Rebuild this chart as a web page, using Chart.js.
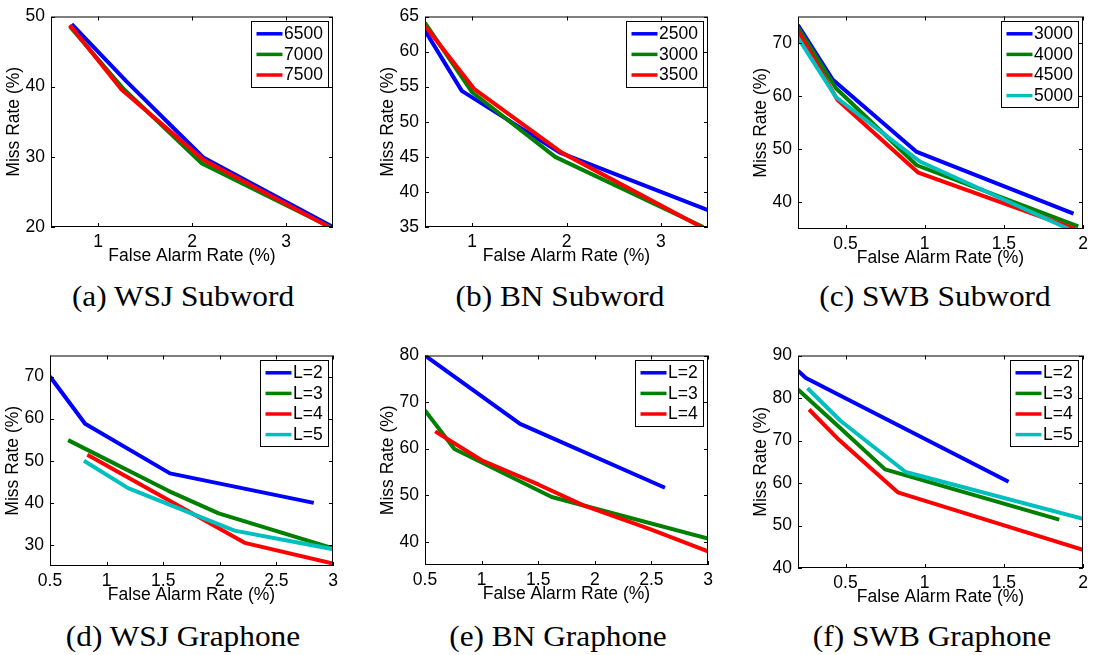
<!DOCTYPE html>
<html><head><meta charset="utf-8">
<script src="https://cdn.jsdelivr.net/npm/chart.js@4.4.0/dist/chart.umd.min.js"></script>
<style>
html,body{margin:0;padding:0;background:#fff;width:1097px;height:655px;overflow:hidden;position:relative;}
canvas{position:absolute;}
.cap{position:absolute;font-family:"Liberation Serif","Times New Roman",serif;font-size:29px;line-height:29px;white-space:nowrap;color:#000;transform:translateX(-50%) scaleX(1.08);transform-origin:center;}
</style></head><body>
<script>
// ---------- (a) WSJ Subword ----------
const aXTicks = [1, 2, 3];
const aYTicks = [20, 30, 40, 50];
const aLabels = ['6500', '7000', '7500'];
const aX6500 = [0.72, 1.30, 2.12, 3.50];
const aY6500 = [48.9, 40.8, 29.9, 20.0];
const aX7000 = [0.70, 1.27, 2.10, 3.47];
const aY7000 = [48.6, 39.7, 29.1, 20.0];
const aX7500 = [0.70, 1.25, 2.12, 3.46];
const aY7500 = [48.8, 39.6, 29.6, 20.0];

// ---------- (b) BN Subword ----------
const bXTicks = [1, 2, 3];
const bYTicks = [35, 40, 45, 50, 55, 60, 65];
const bLabels = ['2500', '3000', '3500'];
const bX2500 = [0.50, 0.89, 1.93, 3.50];
const bY2500 = [63.0, 54.4, 45.6, 37.4];
const bX3000 = [0.50, 1.00, 1.88, 3.45];
const bY3000 = [64.1, 54.2, 45.0, 35.0];
const bX3500 = [0.50, 1.02, 1.95, 3.43];
const bY3500 = [63.7, 54.7, 45.6, 35.0];

// ---------- (c) SWB Subword ----------
const cXTicks = [0.5, 1, 1.5, 2];
const cYTicks = [40, 50, 60, 70];
const cLabels = ['3000', '4000', '4500', '5000'];
const cX3000 = [0.20, 0.42, 0.95, 1.94];
const cY3000 = [73.4, 63.1, 49.5, 37.9];
const cX4000 = [0.20, 0.44, 0.95, 1.97];
const cY4000 = [72.9, 61.5, 47.0, 35.5];
const cX4500 = [0.20, 0.45, 0.96, 1.95];
const cY4500 = [72.3, 59.3, 45.6, 35.0];
const cX5000 = [0.20, 0.44, 0.97, 1.91];
const cY5000 = [71.0, 59.8, 47.7, 35.0];

// ---------- (d) WSJ Graphone ----------
const dXTicks = [0.5, 1, 1.5, 2, 2.5, 3];
const dYTicks = [30, 40, 50, 60, 70];
const dLabels = ['L=2', 'L=3', 'L=4', 'L=5'];
const dXL2 = [0.50, 0.81, 1.56, 2.83];
const dYL2 = [70.0, 58.8, 47.0, 40.0];
const dXL3 = [0.66, 1.55, 1.99, 3.00];
const dYL3 = [54.9, 42.8, 37.5, 29.2];
const dXL4 = [0.83, 2.22, 3.00];
const dYL4 = [51.4, 30.5, 25.6];
const dXL5 = [0.80, 1.19, 2.13, 3.00];
const dYL5 = [50.0, 43.5, 33.4, 29.0];

// ---------- (e) BN Graphone ----------
const eXTicks = [0.5, 1, 1.5, 2, 2.5, 3];
const eYTicks = [40, 50, 60, 70, 80];
const eLabels = ['L=2', 'L=3', 'L=4'];
const eXL2 = [0.50, 1.34, 2.62];
const eYL2 = [80.0, 65.3, 51.6];
const eXL3 = [0.50, 0.76, 1.62, 3.00];
const eYL3 = [68.2, 59.9, 49.6, 40.7];
const eXL4 = [0.59, 1.00, 1.50, 1.90, 2.50, 3.00];
const eYL4 = [63.7, 57.5, 52.3, 47.8, 42.6, 37.9];

// ---------- (f) SWB Graphone ----------
const fXTicks = [0.5, 1, 1.5, 2];
const fYTicks = [40, 50, 60, 70, 80, 90];
const fLabels = ['L=2', 'L=3', 'L=4', 'L=5'];
const fXL2 = [0.20, 0.25, 1.53];
const fYL2 = [86.4, 84.7, 60.3];
const fXL3 = [0.20, 0.47, 0.75, 1.85];
const fYL3 = [82.0, 72.8, 63.2, 51.4];
const fXL4 = [0.27, 0.46, 0.83, 2.00];
const fYL4 = [77.3, 70.1, 57.8, 44.3];
const fXL5 = [0.26, 0.47, 0.88, 2.00];
const fYL5 = [82.3, 74.6, 62.6, 51.6];

const captions = ['(a) WSJ Subword', '(b) BN Subword', '(c) SWB Subword',
                  '(d) WSJ Graphone', '(e) BN Graphone', '(f) SWB Graphone'];

// ---------- styling / layout ----------
const COLORS = ['#0000FF', '#008000', '#FF0000', '#00BFBF'];
const FONT = {family: "'Liberation Sans', Arial, Helvetica, sans-serif", size: 17.5};
const YW = 50, XH = 40, PT = 14, PR = 14;

function pts(xs, ys) { return xs.map((x, i) => ({x: x, y: ys[i]})); }

const boxPlugin = {
  id: 'matlabBox',
  afterDraw(chart) {
    const ctx = chart.ctx, ca = chart.chartArea;
    const xs = chart.scales.x, ys = chart.scales.y;
    ctx.save();
    ctx.strokeStyle = '#000';
    ctx.lineWidth = 1;
    ctx.strokeRect(ca.left + 0.5, ca.top + 0.5, ca.right - ca.left - 1, ca.bottom - ca.top - 1);
    const TL = 4;
    ctx.beginPath();
    xs.ticks.forEach(t => {
      const p = Math.round(xs.getPixelForValue(t.value)) + 0.5;
      ctx.moveTo(p, ca.bottom); ctx.lineTo(p, ca.bottom - TL);
      ctx.moveTo(p, ca.top); ctx.lineTo(p, ca.top + TL);
    });
    ys.ticks.forEach(t => {
      const p = Math.round(ys.getPixelForValue(t.value)) + 0.5;
      ctx.moveTo(ca.left, p); ctx.lineTo(ca.left + TL, p);
      ctx.moveTo(ca.right, p); ctx.lineTo(ca.right - TL, p);
    });
    ctx.stroke();

    // legend box (top-right, inside axes)
    const ds = chart.data.datasets;
    ctx.font = FONT.size + 'px ' + FONT.family;
    let tw = 0;
    ds.forEach(d => { tw = Math.max(tw, ctx.measureText(d.label).width); });
    const padL = 5, lineLen = 26, gap = 1.6, padR = 5.5, rowH = 20.6;
    const w = Math.round(padL + lineLen + gap + tw + padR);
    const h = Math.round(ds.length * rowH + 4);
    const bx = Math.round(ca.right - 5 - w) + 0.5;
    const by = Math.round(ca.top + 4) + 0.5;
    ctx.fillStyle = '#fff';
    ctx.fillRect(bx, by, w, h);
    ctx.strokeRect(bx, by, w, h);
    ds.forEach((d, i) => {
      const cy = by + 2 + rowH * (i + 0.5);
      ctx.strokeStyle = d.borderColor;
      ctx.lineWidth = 3.5;
      ctx.lineCap = 'butt';
      ctx.beginPath();
      ctx.moveTo(bx + padL, cy); ctx.lineTo(bx + padL + lineLen, cy);
      ctx.stroke();
      ctx.fillStyle = '#000';
      ctx.textBaseline = 'middle';
      ctx.textAlign = 'left';
      ctx.fillText(d.label, bx + padL + lineLen + gap, cy + 0.5);
    });
    ctx.restore();
  }
};

function makePanel(rect, xMin, xMax, yMin, yMax, xTicks, yTicks, labels, seriesX, seriesY, caption, capX, capTop) {
  const left = rect.L - YW, top = rect.T - PT;
  const w = rect.R - rect.L + YW + PR, h = rect.B - rect.T + PT + XH;
  const cv = document.createElement('canvas');
  cv.width = w; cv.height = h;
  cv.style.left = left + 'px'; cv.style.top = top + 'px';
  cv.style.width = w + 'px'; cv.style.height = h + 'px';
  document.body.appendChild(cv);
  const n = labels.length;
  const datasets = labels.map((lab, i) => ({
    label: lab,
    data: pts(seriesX[i], seriesY[i]),
    borderColor: COLORS[i],
    backgroundColor: COLORS[i],
    borderWidth: 4,
    pointRadius: 0,
    pointHoverRadius: 0,
    tension: 0,
    fill: false,
    clip: 0,
    borderJoinStyle: 'round',
    borderCapStyle: 'butt',
    order: n - i
  }));
  new Chart(cv, {
    type: 'line',
    data: {datasets: datasets},
    options: {
      responsive: false,
      animation: false,
      devicePixelRatio: 1,
      events: [],
      layout: {padding: {left: 0, top: PT, right: PR, bottom: 0}},
      plugins: {legend: {display: false}, tooltip: {enabled: false}},
      scales: {
        x: {
          type: 'linear', position: 'bottom', min: xMin, max: xMax,
          afterBuildTicks: s => { s.ticks = xTicks.map(v => ({value: v})); },
          afterFit: s => { s.height = XH; },
          grid: {display: false, drawTicks: false},
          border: {display: false},
          ticks: {font: FONT, color: '#000', padding: 5, maxRotation: 0, autoSkip: false,
                  callback: v => String(v)},
          title: {display: true, text: 'False Alarm Rate (%)', font: FONT, color: '#000',
                  padding: {top: 0, bottom: 0}}
        },
        y: {
          type: 'linear', position: 'left', min: yMin, max: yMax,
          afterBuildTicks: s => { s.ticks = yTicks.map(v => ({value: v})); },
          afterFit: s => { s.width = YW; },
          grid: {display: false, drawTicks: false},
          border: {display: false},
          ticks: {font: FONT, color: '#000', padding: 6, autoSkip: false,
                  callback: v => String(v)},
          title: {display: true, text: 'Miss Rate (%)', font: FONT, color: '#000',
                  padding: {top: 3, bottom: 0}}
        }
      }
    },
    plugins: [boxPlugin]
  });
  const cap = document.createElement('div');
  cap.className = 'cap';
  cap.textContent = caption;
  cap.style.left = capX + 'px';
  cap.style.top = capTop + 'px';
  document.body.appendChild(cap);
}

makePanel({L: 51, R: 333, T: 14, B: 227}, 0.5, 3.5, 20, 50, aXTicks, aYTicks, aLabels,
  [aX6500, aX7000, aX7500], [aY6500, aY7000, aY7500], captions[0], 183, 282);
makePanel({L: 425, R: 708, T: 14, B: 227}, 0.5, 3.5, 35, 65, bXTicks, bYTicks, bLabels,
  [bX2500, bX3000, bX3500], [bY2500, bY3000, bY3500], captions[1], 560, 282);
makePanel({L: 798, R: 1083, T: 14, B: 229}, 0.2, 2, 35, 75, cXTicks, cYTicks, cLabels,
  [cX3000, cX4000, cX4500, cX5000], [cY3000, cY4000, cY4500, cY5000], captions[2], 935, 282);
makePanel({L: 50, R: 333, T: 353, B: 566}, 0.5, 3, 25, 75, dXTicks, dYTicks, dLabels,
  [dXL2, dXL3, dXL4, dXL5], [dYL2, dYL3, dYL4, dYL5], captions[3], 183, 622);
makePanel({L: 425, R: 708, T: 353, B: 565}, 0.5, 3, 35, 80, eXTicks, eYTicks, eLabels,
  [eXL2, eXL3, eXL4], [eYL2, eYL3, eYL4], captions[4], 558, 622);
makePanel({L: 798, R: 1083, T: 353, B: 568}, 0.2, 2, 40, 90, fXTicks, fYTicks, fLabels,
  [fXL2, fXL3, fXL4, fXL5], [fYL2, fYL3, fYL4, fYL5], captions[5], 932, 622);
</script>
</body></html>
